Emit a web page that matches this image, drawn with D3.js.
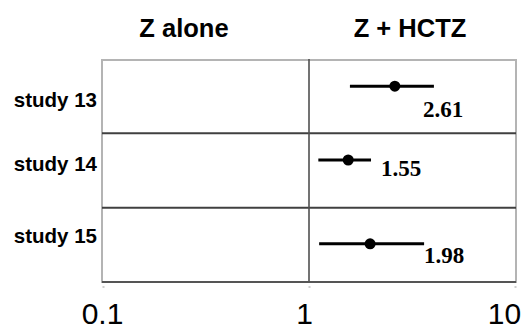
<!DOCTYPE html>
<html>
<head>
<meta charset="utf-8">
<script src="https://cdn.jsdelivr.net/npm/d3@7/dist/d3.min.js"></script>
<style>
  html, body { margin: 0; padding: 0; background: #fff; }
  svg { display: block; }
</style>
</head>
<body>
<svg id="chart" width="523" height="331"></svg>
<script>
// Odds ratios with confidence intervals, Z + HCTZ versus Z alone
const studies = ["study 13", "study 14", "study 15"];
const ratios = [2.61, 1.55, 1.98];
const ciLow = [1.58, 1.11, 1.12];
const ciHigh = [4.04, 2.0, 3.62];
const panelTitles = ["Z alone", "Z + HCTZ"];
const tickValues = [0.1, 1, 10];
const tickLabels = ["0.1", "1", "10"];

// Layout tweaks (pixels) for each row: marker line, value label and row label
const rowLayout = [
  { line: -10, labelDx: -11, labelDy: 21, nameDy: 11 },
  { line: -10.5, labelDx: 10, labelDy: 5.5, nameDy: 0 },
  { line: -1, labelDx: 0, labelDy: 18, nameDy: -2 }
];

const svg = d3.select("#chart");
const plotLeft = 102, plotRight = 516, plotTop = 60, plotBottom = 282;

const x = d3.scaleLog().domain([0.1, 10]).range([103, 515]);
const y = d3.scaleBand().domain(studies).range([plotTop - 1, plotBottom]);

// frame
svg.append("rect")
  .attr("x", plotLeft).attr("y", plotTop)
  .attr("width", plotRight - plotLeft).attr("height", plotBottom - plotTop)
  .attr("fill", "none").attr("stroke", "#b4b4b4").attr("stroke-width", 2);

// row dividers
svg.selectAll("line.div")
  .data(studies.slice(1))
  .join("line")
  .attr("class", "div")
  .attr("x1", plotLeft).attr("x2", plotRight)
  .attr("y1", d => y(d)).attr("y2", d => y(d))
  .attr("stroke", "#404040").attr("stroke-width", 2);

// line of no effect
svg.append("line")
  .attr("x1", x(1)).attr("x2", x(1))
  .attr("y1", plotTop - 1).attr("y2", plotBottom)
  .attr("stroke", "#505050").attr("stroke-width", 1.6);

// bottom axis
const axis = d3.axisBottom(x).tickValues(tickValues).tickSize(0).tickPadding(0)
  .tickFormat((d, i) => tickLabels[i]);
const gAxis = svg.append("g").attr("transform", `translate(0,${plotBottom})`).call(axis);
gAxis.select(".domain").attr("stroke", "#555").attr("stroke-width", 2)
  .attr("d", `M${plotLeft},0H${plotRight}`);
const tickShift = [-1, -5, -11];
gAxis.selectAll(".tick text")
  .attr("y", 42).attr("dy", 0)
  .attr("dx", (d, i) => tickShift[i])
  .attr("fill", "#000")
  .attr("font-family", "Liberation Sans, Arial, sans-serif")
  .attr("font-size", 30);
gAxis.selectAll(".tick").append("rect")
  .attr("x", -1).attr("y", 4).attr("width", 2).attr("height", 2)
  .attr("fill", "#d0d0d0");

// panel titles
const titleX = [184, 410];
svg.selectAll("text.title")
  .data(panelTitles)
  .join("text")
  .attr("class", "title")
  .attr("x", (d, i) => titleX[i]).attr("y", 37)
  .attr("text-anchor", "middle")
  .attr("font-family", "Liberation Sans, Arial, sans-serif")
  .attr("font-weight", "bold").attr("font-size", 25.5)
  .text(d => d);

// study names
svg.selectAll("text.name")
  .data(studies)
  .join("text")
  .attr("class", "name")
  .attr("x", 97)
  .attr("y", (d, i) => y(d) + y.bandwidth() / 2 + rowLayout[i].nameDy)
  .attr("text-anchor", "end")
  .attr("font-family", "Liberation Sans, Arial, sans-serif")
  .attr("font-weight", "bold").attr("font-size", 20.5)
  .text(d => d);

const rows = studies.map((s, i) => ({ s, i, or: ratios[i], lo: ciLow[i], hi: ciHigh[i] }));
const cy = d => y(d.s) + y.bandwidth() / 2 + rowLayout[d.i].line;

// confidence intervals
svg.selectAll("line.ci")
  .data(rows)
  .join("line")
  .attr("class", "ci")
  .attr("x1", d => x(d.lo)).attr("x2", d => x(d.hi))
  .attr("y1", cy).attr("y2", cy)
  .attr("stroke", "#000").attr("stroke-width", 3);

// point estimates
svg.selectAll("circle.pt")
  .data(rows)
  .join("circle")
  .attr("class", "pt")
  .attr("cx", d => x(d.or)).attr("cy", cy)
  .attr("r", 5.5).attr("fill", "#000");

// value labels
svg.selectAll("text.val")
  .data(rows)
  .join("text")
  .attr("class", "val")
  .attr("x", d => x(d.hi) + rowLayout[d.i].labelDx)
  .attr("y", d => y(d.s) + y.bandwidth() / 2 + rowLayout[d.i].labelDy)
  .attr("font-family", "Liberation Serif, Times New Roman, serif")
  .attr("font-weight", "bold").attr("font-size", 23)
  .text(d => d.or.toFixed(2));
</script>
</body>
</html>
